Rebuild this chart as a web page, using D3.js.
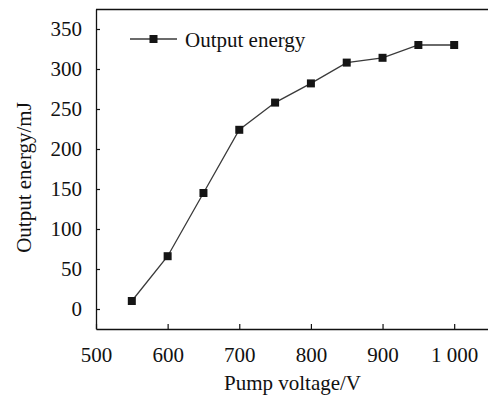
<!DOCTYPE html>
<html>
<head>
<meta charset="utf-8">
<script src="https://cdn.jsdelivr.net/npm/d3@7"></script>
<style>
  html, body { margin: 0; padding: 0; background: #fff; }
  svg { display: block; }
  text { font-family: "Liberation Serif", "Times New Roman", serif; fill: #111; }
</style>
</head>
<body>
<script>
// ---- data ----
const voltages = [550, 600, 650, 700, 750, 800, 850, 900, 950, 1000];
const energies = [10, 66, 145, 224, 258, 282, 308, 314, 330, 330];
const seriesName = "Output energy";
const xTicks = [500, 600, 700, 800, 900, 1000];
const xTickLabels = ["500", "600", "700", "800", "900", "1 000"];
const yTicks = [0, 50, 100, 150, 200, 250, 300, 350];
const yTickLabels = ["0", "50", "100", "150", "200", "250", "300", "350"];
const xTitle = "Pump voltage/V";
const yTitle = "Output energy/mJ";

// ---- layout ----
const W = 488, H = 395;
const pLeft = 96, pRight = 490, pTop = 9, pBottom = 329;
const fontSize = 21;

const svg = d3.select("body").append("svg").attr("width", W).attr("height", H);

const x = d3.scaleLinear().domain([500, 1050]).range([pLeft, pRight]);
const y = d3.scaleLinear().domain([-25, 375]).range([pBottom, pTop]);

// top frame line
svg.append("line")
  .attr("x1", pLeft).attr("x2", pRight).attr("y1", pTop + 0.5).attr("y2", pTop + 0.5)
  .attr("stroke", "#111").attr("stroke-width", 1.3);

// x axis
const xAxis = d3.axisBottom(x)
  .tickValues(xTicks)
  .tickFormat((d, i) => xTickLabels[i])
  .tickSizeInner(-5).tickSizeOuter(0).tickPadding(0);
const gx = svg.append("g").attr("transform", `translate(0,${pBottom})`).call(xAxis);
gx.select(".domain").attr("stroke", "#111").attr("stroke-width", 1.3);
gx.selectAll(".tick line").attr("stroke", "#111").attr("stroke-width", 1.2);
gx.selectAll(".tick text")
  .attr("y", 33).attr("dy", 0)
  .style("font-family", '"Liberation Serif", "Times New Roman", serif')
  .style("font-size", fontSize + "px").attr("fill", "#111");

// y axis
const yAxis = d3.axisLeft(y)
  .tickValues(yTicks)
  .tickFormat((d, i) => yTickLabels[i])
  .tickSizeInner(-4).tickSizeOuter(0).tickPadding(14);
const gy = svg.append("g").attr("transform", `translate(${pLeft},0)`).call(yAxis);
gy.select(".domain").attr("stroke", "#111").attr("stroke-width", 1.3);
gy.selectAll(".tick line").attr("stroke", "#111").attr("stroke-width", 1.2);
gy.selectAll(".tick text")
  .style("font-family", '"Liberation Serif", "Times New Roman", serif')
  .style("font-size", fontSize + "px").attr("fill", "#111");

// line series
const pts = voltages.map((v, i) => ({ v, e: energies[i] }));
svg.append("path")
  .datum(pts)
  .attr("fill", "none")
  .attr("stroke", "#3a3a3a")
  .attr("stroke-width", 1.3)
  .attr("d", d3.line().x(d => x(d.v)).y(d => y(d.e)));

const ms = 8;
svg.selectAll("rect.pt")
  .data(pts).enter().append("rect")
  .attr("class", "pt")
  .attr("x", d => x(d.v) - ms / 2)
  .attr("y", d => y(d.e) - ms / 2)
  .attr("width", ms).attr("height", ms)
  .attr("fill", "#151515");

// legend
const lg = svg.append("g");
lg.append("line").attr("x1", 130).attr("x2", 177).attr("y1", 39).attr("y2", 39)
  .attr("stroke", "#3a3a3a").attr("stroke-width", 1.3);
lg.append("rect").attr("x", 153.5 - ms / 2).attr("y", 39 - ms / 2)
  .attr("width", ms).attr("height", ms).attr("fill", "#151515");
lg.append("text").attr("x", 185).attr("y", 46.5)
  .style("font-size", fontSize + "px").text(seriesName);

// axis titles
svg.append("text")
  .attr("x", 292.5).attr("y", 390)
  .attr("text-anchor", "middle")
  .style("font-size", fontSize + "px")
  .text(xTitle);

svg.append("text")
  .attr("transform", "translate(31,177.5) rotate(-90)")
  .attr("text-anchor", "middle")
  .style("font-size", fontSize + "px")
  .text(yTitle);
</script>
</body>
</html>
